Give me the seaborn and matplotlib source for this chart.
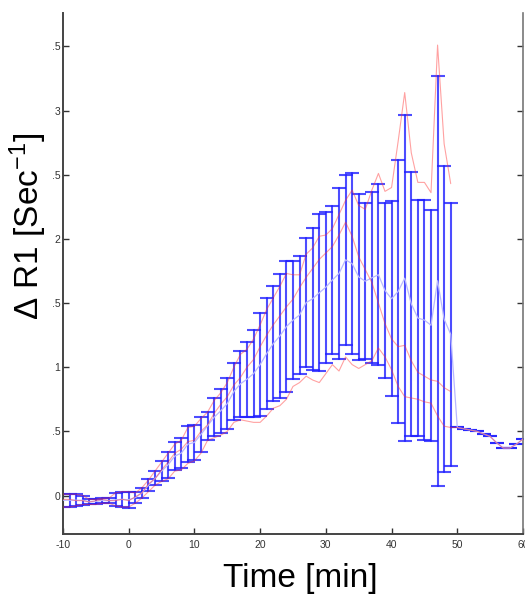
import numpy as np
import pandas as pd
import matplotlib
matplotlib.use("Agg")
import matplotlib.pyplot as plt
import seaborn as sns

# Time axis (minutes) for the three subjects
time_ab = list(range(-10, 50))
time_c = list(range(-10, 61))

# Delta R1 curves [1/s] of the individual subjects
subj_a = [0.01, 0.01, 0.01, 0.00, -0.03, -0.03, -0.02, -0.02, 0.02, 0.03, 0.03, 0.02,
          0.06, 0.12, 0.19, 0.26, 0.33, 0.40, 0.43, 0.53, 0.54, 0.60, 0.65, 0.74, 0.80, 0.88,
          1.00, 1.10, 1.14, 1.22, 1.33, 1.45, 1.54, 1.63, 1.73, 1.72, 1.72, 1.88, 1.93, 2.02,
          2.03, 2.08, 2.19, 2.30, 2.38, 2.26, 2.23, 2.38, 2.51, 2.37, 2.40, 2.76, 3.14, 2.67,
          2.44, 2.44, 2.36, 3.51, 2.74, 2.43]
subj_b = [-0.03, -0.03, -0.04, -0.04, -0.05, -0.04, -0.03, -0.04, -0.04, -0.03, -0.04, -0.01,
          0.02, 0.09, 0.13, 0.20, 0.26, 0.33, 0.36, 0.42, 0.43, 0.50, 0.55, 0.64, 0.71, 0.77,
          0.86, 0.92, 1.00, 1.06, 1.16, 1.25, 1.33, 1.40, 1.47, 1.53, 1.62, 1.70, 1.77, 1.84,
          1.89, 1.94, 2.03, 2.13, 2.02, 1.86, 1.76, 1.66, 1.50, 1.34, 1.22, 1.16, 1.17, 1.05,
          0.96, 0.93, 0.90, 0.89, 0.84, 0.81]
subj_c = [-0.09, -0.09, -0.08, -0.07, -0.07, -0.07, -0.06, -0.06, -0.08, -0.09, -0.09, -0.06,
          -0.02, 0.03, 0.08, 0.11, 0.13, 0.19, 0.20, 0.25, 0.27, 0.33, 0.43, 0.45, 0.47, 0.50,
          0.57, 0.59, 0.58, 0.57, 0.57, 0.62, 0.68, 0.70, 0.75, 0.85, 0.88, 0.93, 0.90, 0.88,
          0.95, 1.02, 0.97, 1.08, 1.02, 0.99, 1.02, 1.05, 1.15, 1.08, 0.98, 0.85, 0.77, 0.76,
          0.75, 0.73, 0.72, 0.62, 0.54, 0.53,
          0.53, 0.52, 0.51, 0.50, 0.48, 0.46, 0.41, 0.37, 0.37, 0.40, 0.44]

x_ticks = [-10, 0, 10, 20, 30, 40, 50, 60]
y_ticks = [0, 0.5, 1, 1.5, 2, 2.5, 3, 3.5]
y_tick_labels = ["0", ".5", "1", ".5", "2", ".5", "3", ".5"]

df = pd.concat([
    pd.DataFrame({"time": time_ab, "dr1": subj_a, "subject": "A"}),
    pd.DataFrame({"time": time_ab, "dr1": subj_b, "subject": "B"}),
    pd.DataFrame({"time": time_c, "dr1": subj_c, "subject": "C"}),
], ignore_index=True)


def mean_sd(values):
    m = values.mean()
    s = values.std() if len(values) > 1 else 0.0
    return m - s, m + s


sns.set_style("ticks")
plt.rcParams["font.family"] = ["Liberation Sans", "DejaVu Sans"]
plt.rcParams["mathtext.fontset"] = "custom"
plt.rcParams["mathtext.rm"] = "Liberation Sans"
plt.rcParams["mathtext.default"] = "regular"

fig = plt.figure(figsize=(5.25, 5.99), dpi=100)
ax = fig.add_axes([63 / 525, 65 / 599, 460 / 525, 521 / 599])

bar_color = "#2020ff"
bar_kws = dict(capsize=4.7, elinewidth=1.5, capthick=1.5)

# mean +/- SD across subjects
n_before = len(ax.lines)
sns.lineplot(data=df, x="time", y="dr1", errorbar=mean_sd, err_style="bars",
             color=bar_color, linewidth=0.9, ax=ax, err_kws=bar_kws)
mean_line = ax.lines[n_before]
mean_line.set_color("#b8b8ff")
mean_line.set_zorder(3)

# time points covered by a single subject: zero-width SD bars
counts = df.groupby("time")["dr1"].count()
single = df[df["time"].isin(counts[counts == 1].index)]
ax.errorbar(single["time"], single["dr1"], yerr=np.zeros(len(single)),
            fmt="none", ecolor=bar_color, **bar_kws)

for coll in ax.collections:
    coll.set_alpha(0.8)
for ln in ax.lines[n_before + 1:]:
    ln.set_alpha(0.8)

# individual subject curves
sns.lineplot(data=df, x="time", y="dr1", units="subject", estimator=None,
             color="#ff3030", alpha=0.45, linewidth=0.8, ax=ax, zorder=4)

ax.set_xlim(-10, 60)
ax.set_ylim(-0.3, 3.76)
ax.set_xticks(x_ticks)
ax.set_xticklabels([str(v) for v in x_ticks])
ax.set_yticks(y_ticks)
ax.set_yticklabels(y_tick_labels)
ax.tick_params(axis="both", direction="in", length=4, width=1, labelsize=7.5,
               colors="#333333", right=True, top=False)
ax.tick_params(axis="y", pad=2)
ax.tick_params(axis="x", pad=4)

for side in ["left", "bottom"]:
    ax.spines[side].set_color("#444444")
    ax.spines[side].set_linewidth(1.4)
ax.spines["right"].set_color("#777777")
ax.spines["right"].set_linewidth(1.2)
ax.spines["top"].set_visible(False)

ax.set_xlabel("Time [min]", fontsize=24, color="black")
ax.xaxis.set_label_coords(0.515, -0.055)
ax.set_ylabel("Δ R1 [Sec$^{-1}$]", fontsize=24, color="black")
ax.yaxis.set_label_coords(-0.03, 0.59)

fig.savefig("out.png", dpi=100)
